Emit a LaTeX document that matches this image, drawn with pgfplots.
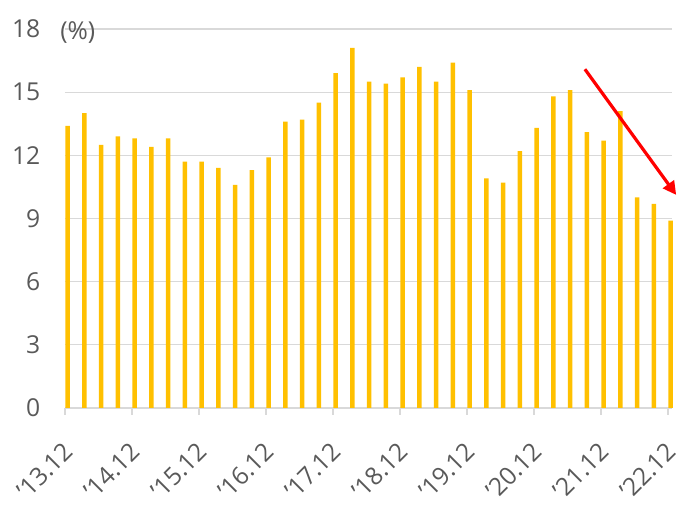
\documentclass[border=0pt]{standalone}
\usepackage{fontspec}
\setmainfont{Open Sans}
\usepackage{pgfplots}
\pgfplotsset{compat=1.18}
\usetikzlibrary{arrows.meta}
\definecolor{bargold}{HTML}{FFC000}
\definecolor{gridgray}{HTML}{D9D9D9}
\definecolor{labgray}{HTML}{595959}
\begin{document}
\begin{tikzpicture}
\begin{axis}[
  scale only axis,
  width=455.25pt, height=284.25pt,
  xmin=-0.16, xmax=36.08,
  ymin=0, ymax=18,
  ytick={0,3,6,9,12,15,18},
  xtick={-0.16,3.84,7.84,11.84,15.84,19.84,23.84,27.84,31.84,35.84},
  xticklabels={'13.12,'14.12,'15.12,'16.12,'17.12,'18.12,'19.12,'20.12,'21.12,'22.12},
  axis x line*=bottom,
  axis y line*=left,
  x axis line style={draw=gridgray, line width=0.8pt, -},
  y axis line style={draw=none},
  ymajorgrids,
  grid style={gridgray, line width=0.8pt},
  major tick length=5pt,
  xtick style={draw=gridgray, line width=0.8pt},
  ytick style={draw=none},
  tick align=outside,
  /pgf/number format/assume math mode=true,
  ticklabel style={font=\fontsize{18.5}{21}\selectfont, text=labgray},
  yticklabel style={anchor=east, xshift=-10pt},
  xticklabel style={rotate=45, anchor=north east, inner sep=0pt, xshift=-15pt, yshift=-12pt},
  clip=false,
]
\addplot[ybar, bar width=3.3pt, fill=bargold, draw=none, mark=none] coordinates {
(0,13.4) (1,14.0) (2,12.5) (3,12.9) (4,12.8) (5,12.4) (6,12.8) (7,11.7) (8,11.7) (9,11.4)
(10,10.6) (11,11.3) (12,11.9) (13,13.6) (14,13.7) (15,14.5) (16,15.9) (17,17.1) (18,15.5) (19,15.4)
(20,15.7) (21,16.2) (22,15.5) (23,16.4) (24,15.1) (25,10.9) (26,10.7) (27,12.2) (28,13.3) (29,14.8)
(30,15.1) (31,13.1) (32,12.7) (33,14.1) (34,10.0) (35,9.7) (36,8.9)
};
\node[anchor=west, inner sep=0pt, font=\fontsize{18.5}{21}\selectfont, text=labgray]
  at ([xshift=-3.75pt, yshift=-3pt]rel axis cs:0,1) {(\%)};
\draw[red, line width=2.4pt, -{Triangle[length=10pt,width=10pt]}]
  (axis cs:30.88,16.09) -- (axis cs:36.33,10.12);
\end{axis}
\pgfresetboundingbox
\path[use as bounding box] ([xshift=-48.75pt, yshift=-78.75pt]current axis.south west) rectangle ++(514.5pt,384.75pt);
\end{tikzpicture}
\end{document}
